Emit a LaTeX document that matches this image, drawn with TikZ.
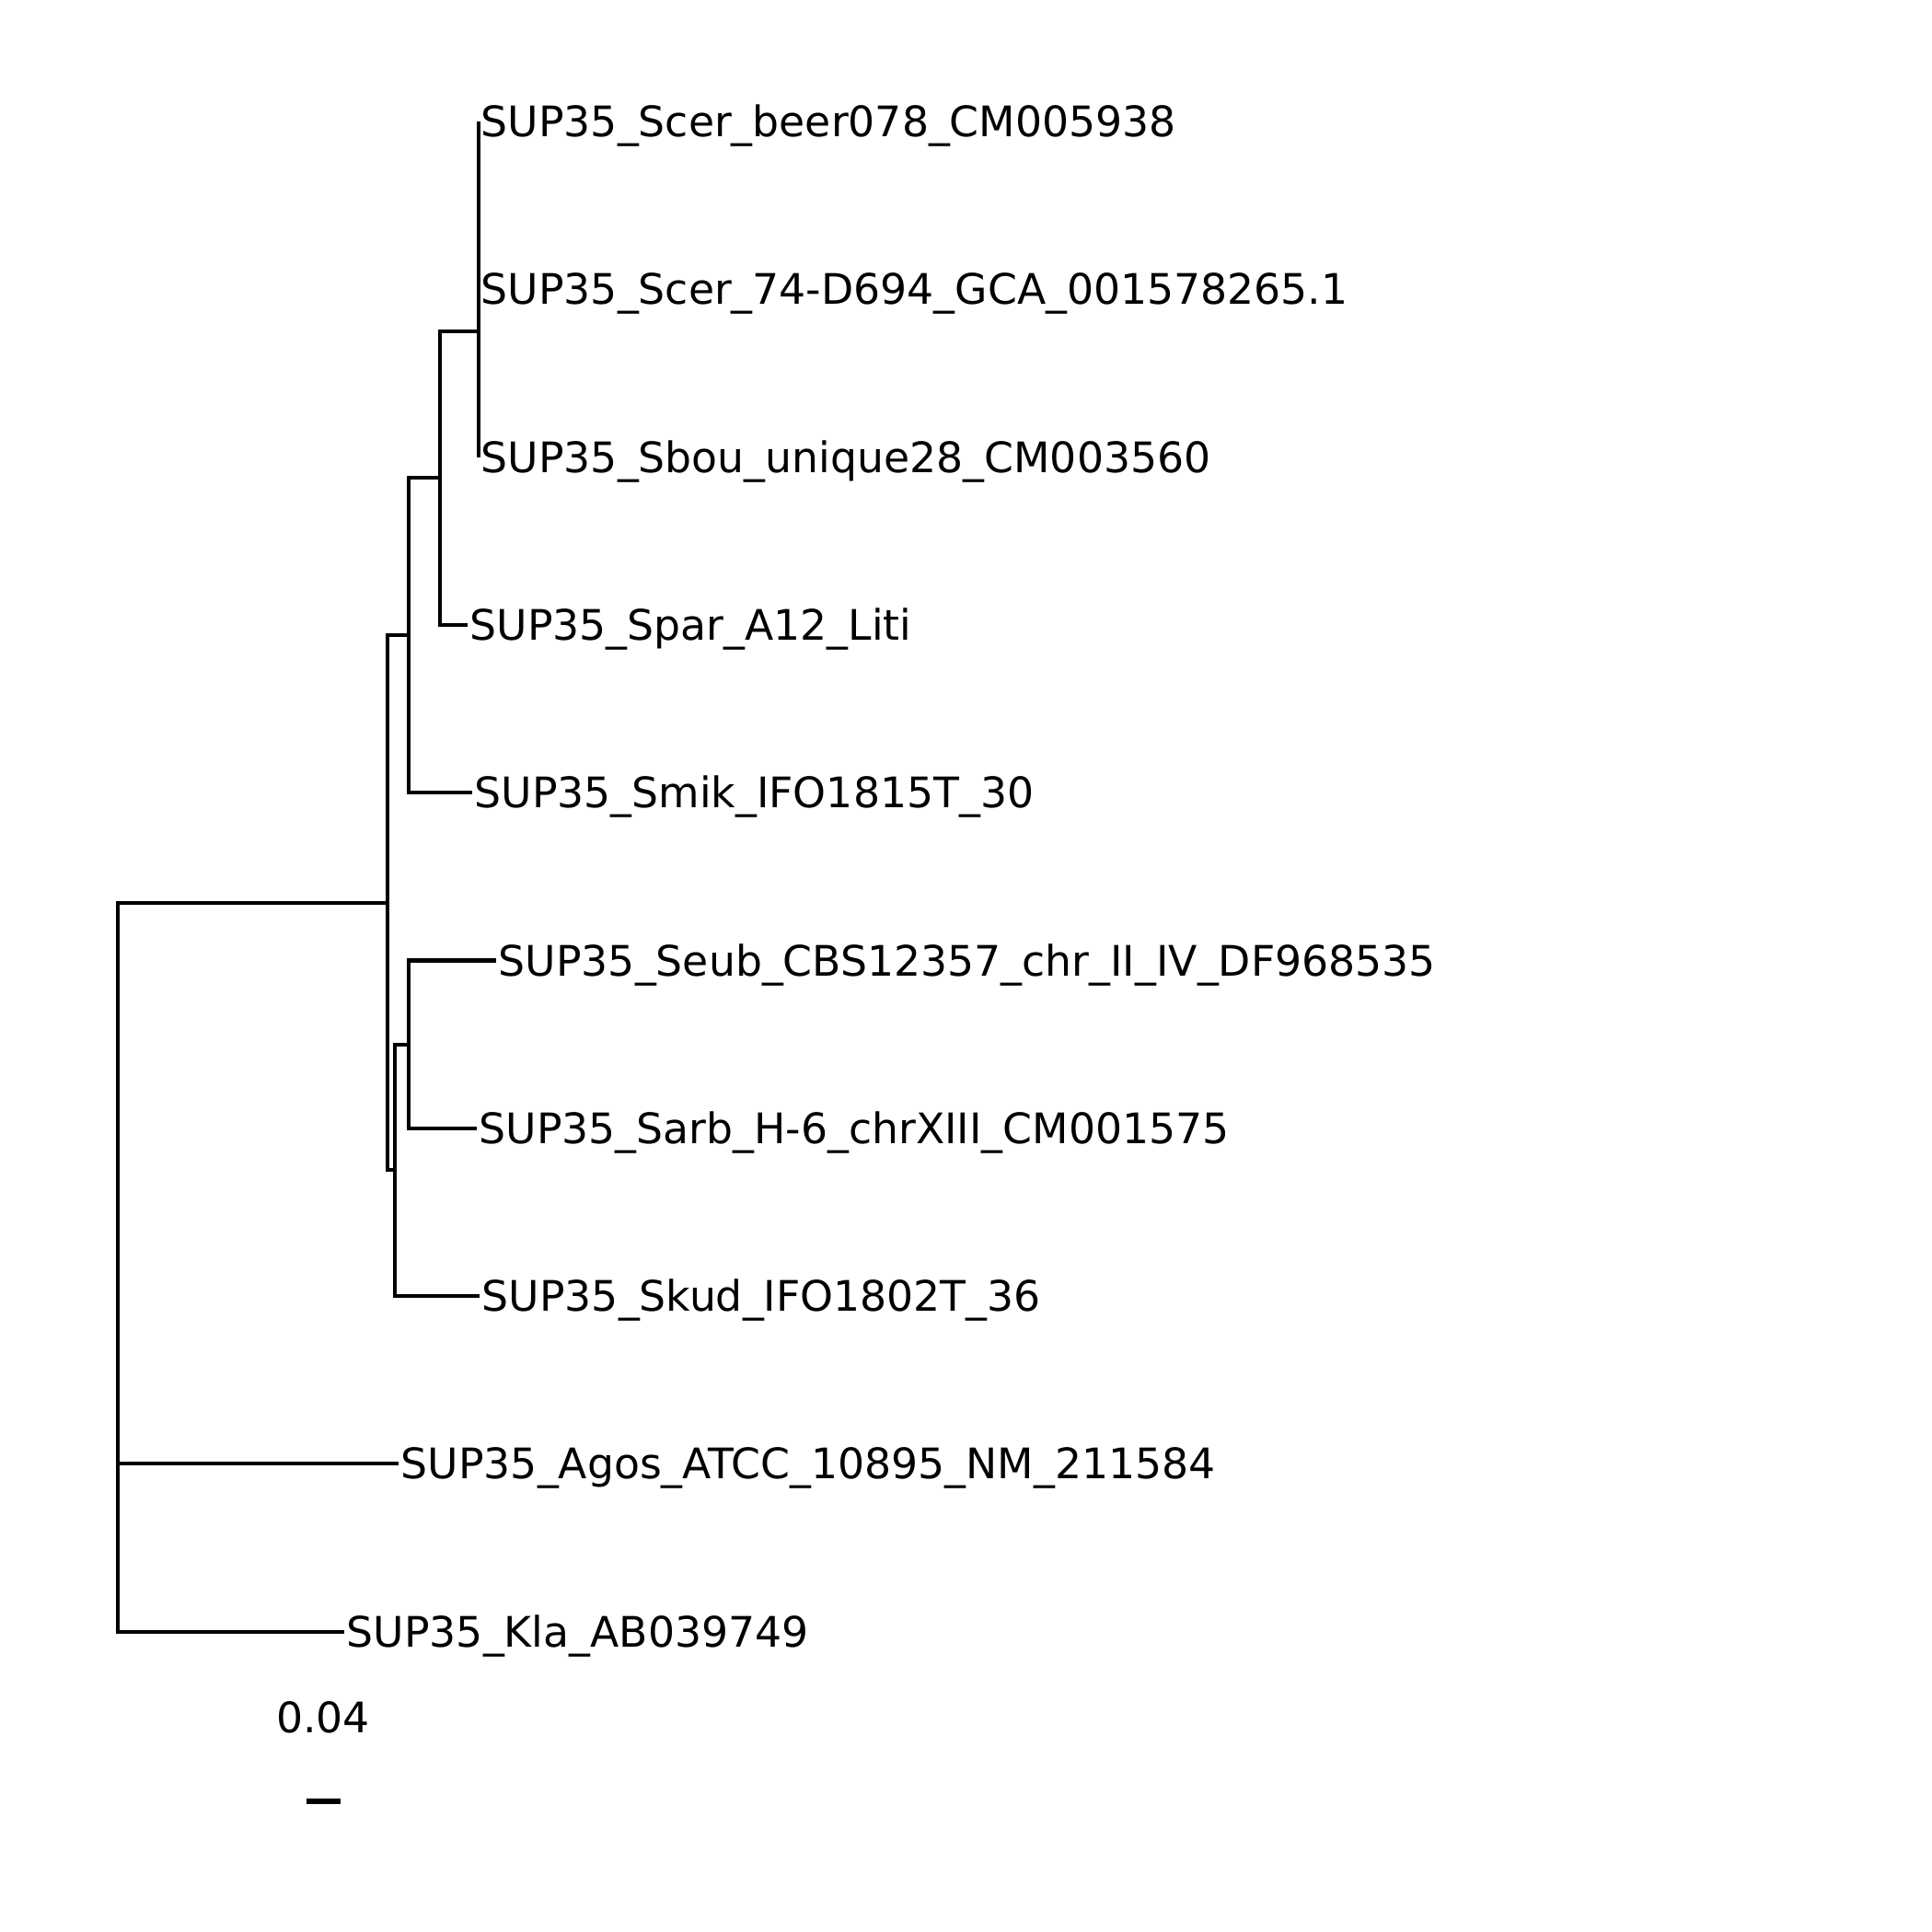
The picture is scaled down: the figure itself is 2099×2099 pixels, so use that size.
\documentclass[tikz,border=0pt]{standalone}
\usepackage{fontspec}
\setmainfont{DejaVu Sans}
\begin{document}
\begin{tikzpicture}[x=0.01cm,y=-0.01cm,
  branch/.style={line width=1.15pt},
  leaflabel/.style={anchor=base west, inner sep=0pt, xshift=0.6pt, yshift=-4.69pt, font=\fontsize{13.0}{15}\selectfont}]
\useasboundingbox (0,0) rectangle (2099,2099);
% leaf tips
\coordinate (beer) at (520,132);
\coordinate (d694) at (520,314.3);
\coordinate (bou)  at (520,496.6);
\coordinate (spar) at (507.7,678.9);
\coordinate (smik) at (512.7,861.2);
\coordinate (seub) at (539,1043.5);
\coordinate (sarb) at (517.7,1225.8);
\coordinate (skud) at (521,1408.1);
\coordinate (agos) at (433,1590.4);
\coordinate (kla)  at (374,1772.7);
% internal nodes
\coordinate (n1) at (520,223.2);
\coordinate (n2) at (520,359.9);
\coordinate (A) at (477.7,519.4);
\coordinate (B) at (444,690.3);
\coordinate (E) at (444.3,1134.7);
\coordinate (D) at (429.3,1271.4);
\coordinate (C) at (421,980.8);
\coordinate (root) at (127.7,1448);
% labels
\node[leaflabel] (Lbeer) at (beer) {SUP35\_Scer\_beer078\_CM005938};
\node[leaflabel] (Ld694) at (d694) {SUP35\_Scer\_74-D694\_GCA\_001578265.1};
\node[leaflabel] (Lbou) at (bou) {SUP35\_Sbou\_unique28\_CM003560};
\node[leaflabel] (Lspar) at (spar) {SUP35\_Spar\_A12\_Liti};
\node[leaflabel] (Lsmik) at (smik) {SUP35\_Smik\_IFO1815T\_30};
\node[leaflabel] (Lseub) at (seub) {SUP35\_Seub\_CBS12357\_chr\_II\_IV\_DF968535};
\node[leaflabel] (Lsarb) at (sarb) {SUP35\_Sarb\_H-6\_chrXIII\_CM001575};
\node[leaflabel] (Lskud) at (skud) {SUP35\_Skud\_IFO1802T\_36};
\node[leaflabel] (Lagos) at (agos) {SUP35\_Agos\_ATCC\_10895\_NM\_211584};
\node[leaflabel] (Lkla) at (kla) {SUP35\_Kla\_AB039749};
% branches
\draw[branch] (beer) -- (n1 |- beer) -- (n1 |- d694) -- (d694);
\draw[branch] (n1) -- (n2 |- n1) -- (n2 |- bou) -- (bou);
\draw[branch] (n2) -- (A |- n2) -- (A |- spar) -- (spar);
\draw[branch] (A) -- (B |- A) -- (B |- smik) -- (smik);
\draw[branch] (seub) -- (E |- seub) -- (E |- sarb) -- (sarb);
\draw[branch] (E) -- (D |- E) -- (D |- skud) -- (skud);
\draw[branch] (B) -- (C |- B) -- (C |- D) -- (D);
\draw[branch] (C) -- (root |- C) -- (root |- kla) -- (kla);
\draw[branch] (root |- agos) -- (agos);
% scale bar
\node[anchor=base, inner sep=0pt, font=\fontsize{13.0}{15}\selectfont] (scalelabel) at (351,1882) {0.04};
\coordinate (sbL) at (332.6,1956.7);
\coordinate (sbR) at (369.6,1956.7);
\draw[line width=1.8pt] (sbL) -- (sbR);
\end{tikzpicture}
\end{document}
